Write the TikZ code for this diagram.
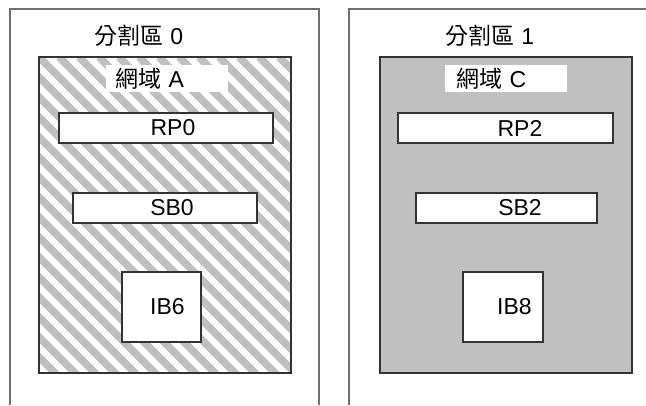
\documentclass[tikz,border=0pt]{standalone}
\usepackage{fontspec}
\setmainfont{Liberation Sans}
\newfontfamily\cjk{Noto Sans CJK TC}
\usetikzlibrary{positioning}
\definecolor{stripegray}{HTML}{C0C0C0}
\definecolor{edgegray}{HTML}{707070}

\tikzset{
  partframe/.style={draw=edgegray, line width=1.4pt},
  domainbox/.style={draw=black!80, line width=1.2pt},
  stripe/.style={draw=stripegray, line width=7.5pt},
  boardbox/.style={draw=black!80, line width=1.2pt, fill=white, inner sep=0pt},
  domlabel/.style={fill=white, inner ysep=0pt, inner xsep=9pt, minimum height=27pt,
    text width=104pt, align=left},
  parttitle/.style={inner sep=0pt}
}

\begin{document}
\begin{tikzpicture}[x=1pt, y=-1pt, font=\fontsize{23}{27}\selectfont]
\useasboundingbox (0,0) rectangle (646,405);

% partitions
\draw[partframe] (10,405) -- (10,9) -- (319,9) -- (319,405);
\draw[partframe] (349,405) -- (349,9) -- (646,9);
\node[parttitle] (p0) at (139,36) {{\cjk 分割區} 0};
\node[parttitle] (p1) at (490,36) {{\cjk 分割區} 1};

% domain A, striped
\begin{scope}
\clip (39,57) rectangle (291,373);
\foreach \x in {-320,-300,...,260}
  \draw[stripe] (39+\x,57) -- ++(330,330);
\end{scope}
\draw[domainbox] (39,57) rectangle (291,373);

% domain C, grey
\draw[domainbox, fill=stripegray] (380,57) rectangle (632,373);

\node[domlabel] (dA) at (167,78.5) {{\cjk 網域} A};
\node[domlabel, inner xsep=11pt, text width=100pt] (dC) at (506,78.5) {{\cjk 網域} C};

% boards
\node[boardbox, minimum width=214pt, minimum height=30pt] (rp0) at (166,128) {\hspace{14pt}RP0};
\node[boardbox, minimum width=184pt, minimum height=30pt] (sb0) at (165,208) {\hspace{14pt}SB0};
\node[boardbox, minimum width=79pt, minimum height=70pt] (ib6) at (161.5,307) {\hspace{12pt}IB6};

\node[boardbox, minimum width=215pt, minimum height=30pt] (rp2) at (505.5,128) {\hspace{29pt}RP2};
\node[boardbox, minimum width=181pt, minimum height=30pt] (sb2) at (506.5,208) {\hspace{27pt}SB2};
\node[boardbox, minimum width=80pt, minimum height=70pt] (ib8) at (503,307) {\hspace{23pt}IB8};
\end{tikzpicture}
\end{document}
